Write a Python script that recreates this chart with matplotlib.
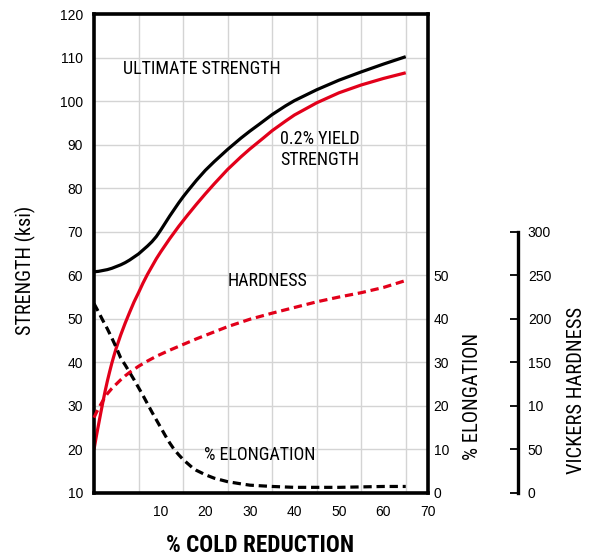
import matplotlib
matplotlib.use("Agg")
import matplotlib.pyplot as plt

# DATA (x = % cold reduction, as placed on the chart)
x_ult = [-5, -4, -3, -2, -1, 0, 1, 2, 3, 4, 5, 6, 7, 8, 9, 10, 11, 12, 13, 14, 15, 16, 18,
         20, 22, 25, 28, 30, 32, 35, 38, 40, 45, 50, 55, 60, 65]
ultimate = [60.8, 60.9, 61.1, 61.3, 61.6, 62.0, 62.4, 62.9, 63.5, 64.2, 64.9, 65.8, 66.7,
            67.7, 68.9, 70.4, 72.0, 73.6, 75.1, 76.6, 78.0, 79.3, 81.8, 84.1, 86.1, 88.9,
            91.5, 93.1, 94.6, 96.9, 98.9, 100.1, 102.6, 104.8, 106.7, 108.5, 110.2]

x_yield = [-5, -4.5, -4, -3.5, -3, -2.5, -2, -1.5, -1, -0.5, 0, 1, 2, 3, 4, 5, 6, 7, 8, 9,
           10, 12, 14, 16, 18, 20, 22, 25, 28, 30, 33, 35, 38, 40, 45, 50, 55, 60, 65]
yield_str = [20.0, 22.9, 25.6, 28.3, 30.9, 33.4, 35.7, 37.8, 39.8, 41.6, 43.3, 46.3, 49.0,
             51.5, 53.9, 56.0, 58.2, 60.2, 62.0, 63.8, 65.4, 68.4, 71.2, 73.8, 76.3, 78.7,
             81.0, 84.3, 87.2, 89.0, 91.5, 93.2, 95.4, 96.8, 99.6, 101.9, 103.7, 105.2, 106.5]

x_hard = [-5, -4.5, -4, -3, -2, -1, 0, 1, 2, 3, 5, 7, 9, 12, 15, 18, 20, 25, 30, 35, 40,
          45, 50, 55, 60, 65]
vickers = [86.5, 92, 97, 106, 114, 120, 125, 130, 134.5, 138.5, 145.5, 151.5, 157, 164,
           170.5, 177, 181, 191, 199.5, 206.5, 213, 219.5, 225, 230, 236, 244]

x_elong = [-5, -4, -3, -2, -1, 0, 1, 2, 3, 4, 5, 6, 7, 8, 9, 10, 11, 12, 13, 14, 15, 16,
           17, 18, 20, 22, 25, 28, 30, 35, 40, 45, 50, 55, 60, 65]
elongation = [43.5, 41.6, 39.6, 37.7, 35.6, 33.4, 31.0, 29.4, 27.7, 26.0, 24.2, 22.4, 20.5,
              18.6, 16.8, 15.0, 13.2, 11.5, 10.0, 8.8, 7.7, 6.8, 5.9, 5.2, 4.2, 3.4, 2.6,
              2.1, 1.8, 1.5, 1.3, 1.3, 1.3, 1.4, 1.5, 1.5]

x_ticks = [10, 20, 30, 40, 50, 60, 70]
x_grid = [5, 15, 25, 35, 45, 55, 65]
str_ticks = [10, 20, 30, 40, 50, 60, 70, 80, 90, 100, 110, 120]
elong_ticks = [0, 10, 20, 30, 40, 50]
hv_ticks = [0, 50, 100, 150, 200, 250, 300]
hv_labels = ["0", "50", "10", "150", "200", "250", "300"]

RED = "#e2001a"
NARROW = "Roboto Condensed"
plt.rcParams["font.family"] = "Liberation Sans"

fig = plt.figure(figsize=(5.94, 5.6), dpi=100)
ax = fig.add_axes([94/594, 1-493/560, 334/594, 479/560])
ax.set_xlim(-5, 70)
ax.set_ylim(10, 120)

for s in ax.spines.values():
    s.set_linewidth(2.6)
ax.set_xticks(x_ticks)
ax.set_xticks(x_grid, minor=True)
ax.set_yticks(str_ticks)
ax.tick_params(axis="both", which="both", length=0, labelsize=10)
ax.tick_params(axis="x", pad=9)
ax.tick_params(axis="y", pad=8)
ax.grid(True, which="minor", axis="x", color="#d4d4d4", lw=1)
ax.grid(True, which="major", axis="y", color="#d4d4d4", lw=1)
ax.set_axisbelow(True)

ax.plot(x_ult, ultimate, color="black", lw=2.3, solid_capstyle="butt")
ax.plot(x_yield, yield_str, color=RED, lw=2.3, solid_capstyle="butt")

ax2 = ax.twinx()
ax2.set_ylim(0, 110)
ax2.set_yticks(elong_ticks)
ax2.tick_params(axis="y", length=0, labelsize=10, pad=4)
for s in ax2.spines.values():
    s.set_visible(False)
ax2.plot(x_elong, elongation, color="black", lw=2.3, ls=(0, (2.6, 1.5)))

ax3 = ax.twinx()
ax3.set_ylim(0, 550)
ax3.spines["right"].set_position(("axes", 1.27))
ax3.spines["right"].set_bounds(0, 300)
ax3.spines["right"].set_linewidth(2.4)
for k in ["top", "bottom", "left"]:
    ax3.spines[k].set_visible(False)
ax3.set_yticks(hv_ticks)
ax3.set_yticklabels(hv_labels)
ax3.tick_params(axis="y", direction="in", length=6, width=1.3, labelsize=10, pad=7)
ax3.plot(x_hard, vickers, color=RED, lw=2.3, ls=(0, (2.6, 1.5)), clip_on=False)

ax.text(1.6, 107.4, "ULTIMATE STRENGTH", family=NARROW, fontsize=13, va="center", ha="left")
ax.text(36.8, 88.8, "0.2% YIELD\nSTRENGTH", family=NARROW, fontsize=13, va="center",
        ha="left", linespacing=1.2)
ax.text(25.1, 58.7, "HARDNESS", family=NARROW, fontsize=13, va="center", ha="left")
ax.text(19.8, 18.7, "% ELONGATION", family=NARROW, fontsize=13, va="center", ha="left")

fig.text(25/594, 1-270/560, "STRENGTH (ksi)", family=NARROW, fontsize=14.5, rotation=90,
         ha="center", va="center")
fig.text(472/594, 1-396/560, "% ELONGATION", family=NARROW, fontsize=14.8, rotation=90,
         ha="center", va="center")
fig.text(577/594, 1-390/560, "VICKERS HARDNESS", family=NARROW, fontsize=14.8, rotation=90,
         ha="center", va="center")
fig.text(260/594, 1-545/560, "% COLD REDUCTION", family=NARROW, fontsize=16.7,
         weight="bold", ha="center", va="center")

fig.savefig("out.png", dpi=100)
